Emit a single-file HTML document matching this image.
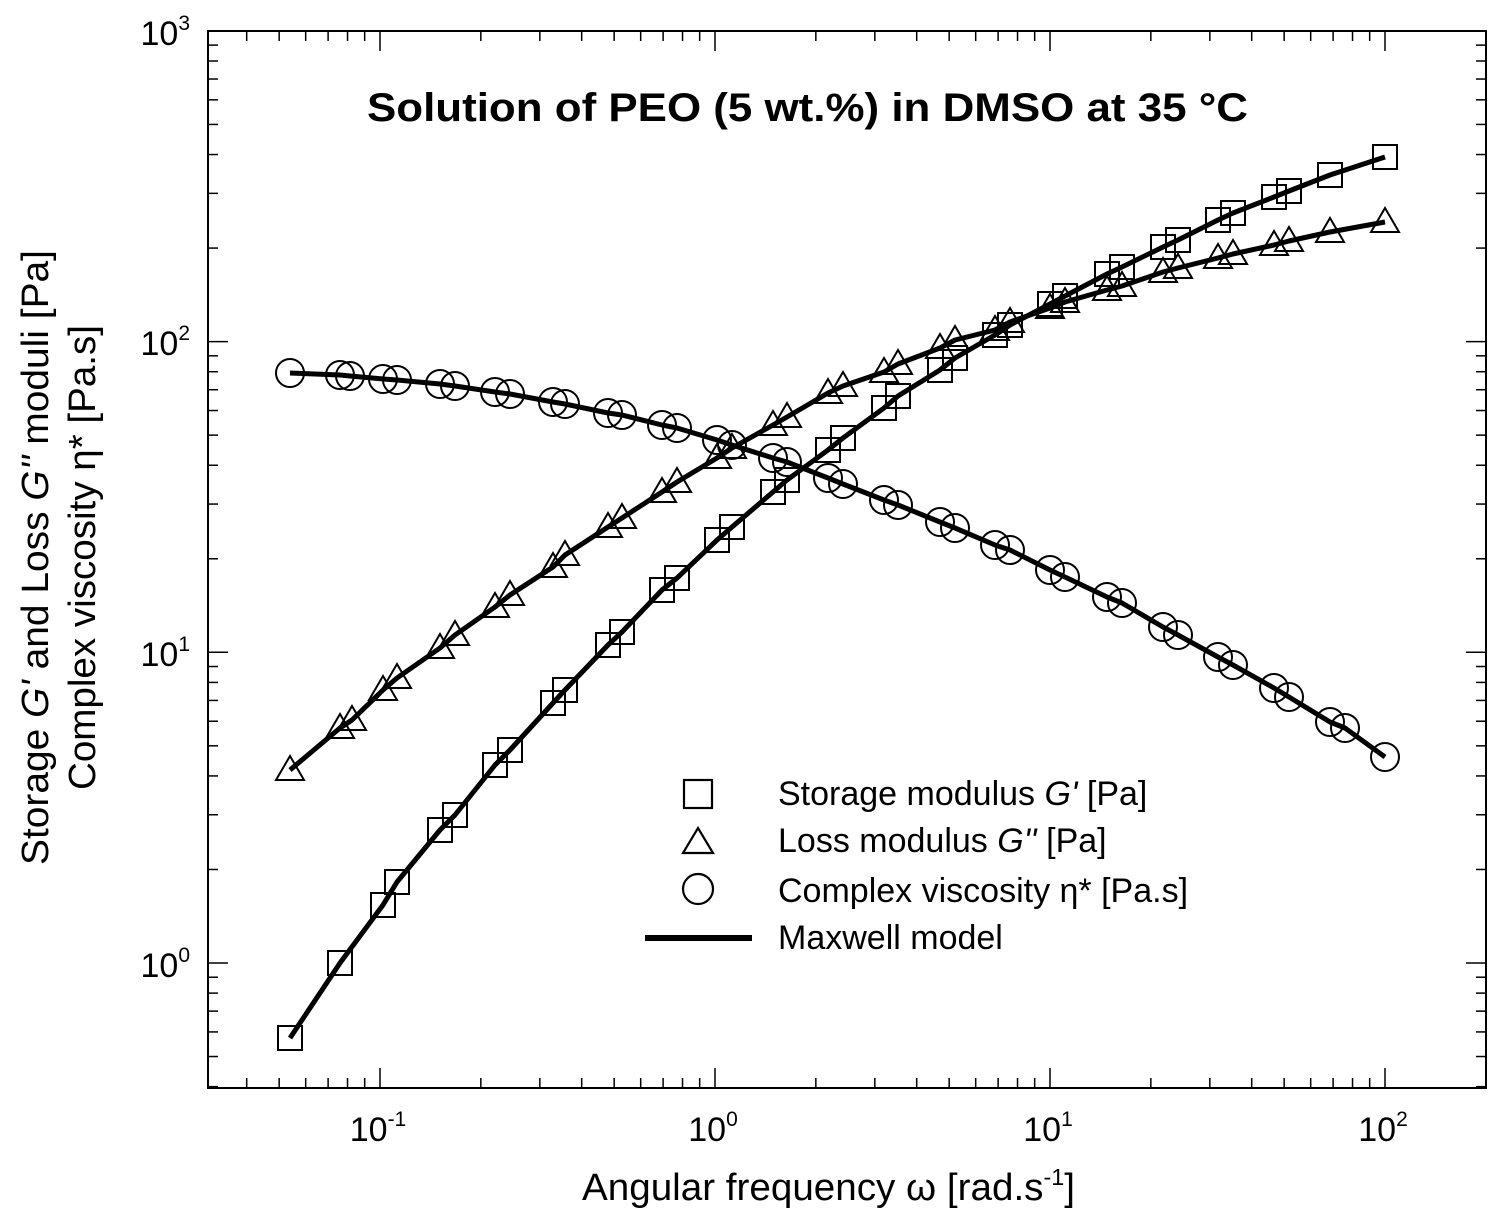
<!DOCTYPE html>
<html><head><meta charset="utf-8"><style>
html,body{margin:0;padding:0;background:#fff;}
svg{display:block;font-family:"Liberation Sans",Arial,sans-serif;}
</style></head><body>
<svg id="s" width="1502" height="1220" viewBox="0 0 1502 1220" xmlns="http://www.w3.org/2000/svg">
<rect x="208" y="31" width="1278" height="1057" fill="none" stroke="#000" stroke-width="2"/>
<g id="ticks" stroke="#000" stroke-width="1.5"></g>
<g id="data"></g>
<text x="367" y="121" textLength="881" lengthAdjust="spacingAndGlyphs" font-size="40" font-weight="bold">Solution of PEO (5 wt.%) in DMSO at 35 °C</text>
<g font-size="34">
<text x="190" y="45" text-anchor="end">10<tspan dy="-15" font-size="21">3</tspan></text>
<text x="190" y="355" text-anchor="end">10<tspan dy="-15" font-size="21">2</tspan></text>
<text x="190" y="666" text-anchor="end">10<tspan dy="-15" font-size="21">1</tspan></text>
<text x="190" y="977" text-anchor="end">10<tspan dy="-15" font-size="21">0</tspan></text>
<text x="378" y="1141" text-anchor="middle">10<tspan dy="-15" font-size="21">-1</tspan></text>
<text x="713" y="1141" text-anchor="middle">10<tspan dy="-15" font-size="21">0</tspan></text>
<text x="1048" y="1141" text-anchor="middle">10<tspan dy="-15" font-size="21">1</tspan></text>
<text x="1383" y="1141" text-anchor="middle">10<tspan dy="-15" font-size="21">2</tspan></text>
</g>
<text x="582" y="1200" textLength="493" lengthAdjust="spacingAndGlyphs" font-size="38">Angular frequency ω [rad.s<tspan dy="-15" font-size="23">-1</tspan><tspan dy="15">]</tspan></text>
<text transform="translate(48,865) rotate(-90)" textLength="615" lengthAdjust="spacingAndGlyphs" font-size="38">Storage <tspan font-style="italic">G'</tspan> and Loss <tspan font-style="italic">G''</tspan> moduli [Pa]</text>
<text transform="translate(95,790) rotate(-90)" textLength="465" lengthAdjust="spacingAndGlyphs" font-size="38">Complex viscosity η* [Pa.s]</text>
<g font-size="34">
<rect x="684" y="780" width="28" height="28" fill="none" stroke="#000" stroke-width="2.2"/>
<text x="778" y="805">Storage modulus <tspan font-style="italic">G'</tspan> [Pa]</text>
<polygon points="698,828 713,853 683,853" fill="none" stroke="#000" stroke-width="2.2"/>
<text x="778" y="852">Loss modulus <tspan font-style="italic">G''</tspan> [Pa]</text>
<circle cx="698" cy="889" r="15" fill="none" stroke="#000" stroke-width="2.2"/>
<text x="778" y="902">Complex viscosity η* [Pa.s]</text>
<line x1="645" y1="938" x2="752" y2="938" stroke="#000" stroke-width="6"/>
<text x="778" y="949">Maxwell model</text>
</g>
</svg>
<script>
var NS="http://www.w3.org/2000/svg";
function el(t,a,p){var e=document.createElementNS(NS,t);for(var k in a)e.setAttribute(k,a[k]);p.appendChild(e);return e;}
var tk=document.getElementById('ticks');
var L=208,R=1486,T=31,B=1088;
function xp(v){return 715+335*Math.log10(v);}
function yp(v){return 963-310.7*Math.log10(v);}
for(var d=-2;d<=2;d++)for(var m=1;m<10;m++){var v=m*Math.pow(10,d);var x=xp(v);if(x<L+1||x>R-1)continue;var len=m==1?20:10;
el('line',{x1:x,y1:B,x2:x,y2:B-len},tk);el('line',{x1:x,y1:T,x2:x,y2:T+len},tk);}
for(var d=-1;d<=3;d++)for(var m=1;m<10;m++){var v=m*Math.pow(10,d);var y=yp(v);if(y<T+1||y>B-1)continue;var len=m==1?20:10;
el('line',{x1:L,y1:y,x2:L+len,y2:y},tk);el('line',{x1:R,y1:y,x2:R-len,y2:y},tk);}
var G1=[[290,1038],[340,963],[383,905],[397,882],[440,830],[455,815],[495,765],[510,750],[553,703],[565,690],[608,645],[622,632],[662,590],[677,578],[717,540],[732,527],[773,492],[787,480],[828,450],[843,438],[884,408],[898,396],[940,370],[955,358],[995,335],[1010,325],[1050,304],[1065,296],[1107,274],[1122,267],[1163,247],[1178,240],[1218,220],[1233,213],[1274,197],[1289,191],[1330,175],[1385,157]];
var G2=[[290,770],[340,728],[352,720],[383,690],[397,678],[440,648],[455,635],[495,607],[510,595],[553,567],[565,555],[608,527],[622,518],[662,492],[677,482],[717,458],[732,448],[773,425],[787,417],[828,393],[843,386],[884,372],[898,364],[940,348],[955,340],[995,330],[1010,322],[1050,308],[1065,302],[1107,290],[1122,286],[1163,272],[1178,268],[1218,258],[1233,254],[1274,245],[1289,241],[1330,232],[1385,222]];
var E=[[290,373],[340,375],[350,376],[383,379],[397,380],[440,384],[455,386],[495,392],[510,394],[553,402],[565,404],[608,413],[622,415],[662,425],[677,428],[717,440],[732,445],[773,458],[787,462],[828,478],[843,484],[884,500],[898,505],[940,522],[955,528],[995,545],[1010,550],[1050,570],[1065,577],[1107,597],[1122,603],[1163,627],[1178,635],[1218,657],[1233,665],[1274,688],[1289,697],[1330,722],[1345,728],[1385,757]];
var g=document.getElementById('data');
[G1,G2,E].forEach(function(a){el('polyline',{points:a.map(function(p){return p.join(',')}).join(' '),fill:'none',stroke:'#000','stroke-width':5,'stroke-linejoin':'round'},g);});
G1.forEach(function(p){el('rect',{x:p[0]-12,y:p[1]-12,width:24,height:24,fill:'none',stroke:'#000','stroke-width':2},g);});
G2.forEach(function(p){var x=p[0],y=p[1]-2;el('polygon',{points:(x)+','+(y-12)+' '+(x+14)+','+(y+12)+' '+(x-14)+','+(y+12),fill:'none',stroke:'#000','stroke-width':2},g);});
E.forEach(function(p){el('circle',{cx:p[0],cy:p[1],r:14,fill:'none',stroke:'#000','stroke-width':2},g);});
</script>
</body></html>
